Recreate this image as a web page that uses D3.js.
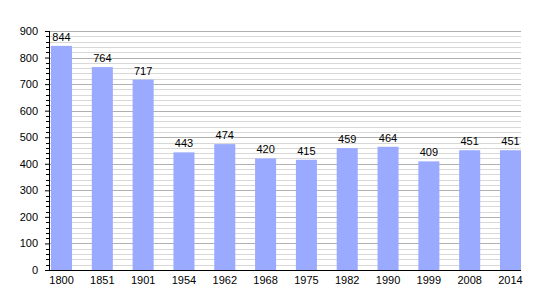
<!DOCTYPE html>
<meta charset="utf-8">
<script src="https://d3js.org/d3.v7.js"></script>
<style>
  body { margin: 0; background: #fff; }
  text { font-family: "Liberation Sans", Arial, sans-serif; }
</style>
<div id="chart"></div>
<script>
// population by census year
var years = ["1800", "1851", "1901", "1954", "1962", "1968", "1975", "1982", "1990", "1999", "2008", "2014"];
var population = [844, 764, 717, 443, 474, 420, 415, 459, 464, 409, 451, 451];
var yTicks = [0, 100, 200, 300, 400, 500, 600, 700, 800, 900];

var data = years.map(function(y, i) { return {year: y, pop: population[i]}; });

var width = 550, height = 300;
var plotLeft = 49, plotRight = 521, plotTop = 31, plotBottom = 270;

var svg = d3.select("#chart").append("svg")
    .attr("width", width)
    .attr("height", height);

var x = d3.scaleBand()
    .domain(years)
    .range([51, plotRight])
    .paddingInner(0.485)
    .paddingOuter(0);

var y = d3.scaleLinear().domain([0, 900]).range([plotBottom, plotTop]);

// minor grid every 20
var minor = d3.range(20, 901, 20).filter(function(v) { return v % 100 !== 0; });
svg.append("g").selectAll("line")
  .data(minor)
  .join("line")
    .attr("x1", plotLeft).attr("x2", plotRight)
    .attr("y1", function(d) { return Math.round(y(d)) + 0.5; })
    .attr("y2", function(d) { return Math.round(y(d)) + 0.5; })
    .attr("stroke", "#d8d8d8");

// major grid every 100
svg.append("g").selectAll("line")
  .data(yTicks.slice(1))
  .join("line")
    .attr("x1", plotLeft).attr("x2", plotRight)
    .attr("y1", function(d) { return Math.round(y(d)) + 0.5; })
    .attr("y2", function(d) { return Math.round(y(d)) + 0.5; })
    .attr("stroke", "#b0b0b0");

// bars
svg.append("g").selectAll("rect")
  .data(data)
  .join("rect")
    .attr("x", function(d) { return x(d.year); })
    .attr("width", x.bandwidth())
    .attr("y", function(d) { return y(d.pop); })
    .attr("height", function(d) { return y(0) - y(d.pop); })
    .attr("fill", "#99aaff");

// value labels
svg.append("g").selectAll("text")
  .data(data)
  .join("text")
    .attr("x", function(d) { return x(d.year) + x.bandwidth() / 2; })
    .attr("y", function(d) { return y(d.pop) - 5; })
    .attr("text-anchor", "middle")
    .attr("font-size", 11)
    .text(function(d) { return d.pop; });

// y axis with minor ticks
var yAxis = svg.append("g")
    .attr("transform", "translate(" + plotLeft + ",0)")
    .call(d3.axisLeft(y).tickValues(yTicks).tickSize(4).tickPadding(7));
yAxis.select(".domain").remove();
yAxis.selectAll("text").attr("font-size", 11).attr("font-family", "Liberation Sans, Arial, sans-serif");
svg.append("g").selectAll("line")
  .data(minor)
  .join("line")
    .attr("x1", plotLeft - 3).attr("x2", plotLeft)
    .attr("y1", function(d) { return Math.round(y(d)) + 0.5; })
    .attr("y2", function(d) { return Math.round(y(d)) + 0.5; })
    .attr("stroke", "#000");
svg.append("line")
    .attr("x1", plotLeft + 0.5).attr("x2", plotLeft + 0.5)
    .attr("y1", plotTop).attr("y2", plotBottom)
    .attr("stroke", "#000");

// x axis
var xAxis = svg.append("g")
    .attr("transform", "translate(0," + plotBottom + ")")
    .call(d3.axisBottom(x).tickSize(0).tickPadding(6));
xAxis.select(".domain").remove();
xAxis.selectAll("text").attr("font-size", 11).attr("font-family", "Liberation Sans, Arial, sans-serif");
svg.append("line")
    .attr("x1", plotLeft).attr("x2", plotRight)
    .attr("y1", plotBottom + 0.5).attr("y2", plotBottom + 0.5)
    .attr("stroke", "#000");
</script>
